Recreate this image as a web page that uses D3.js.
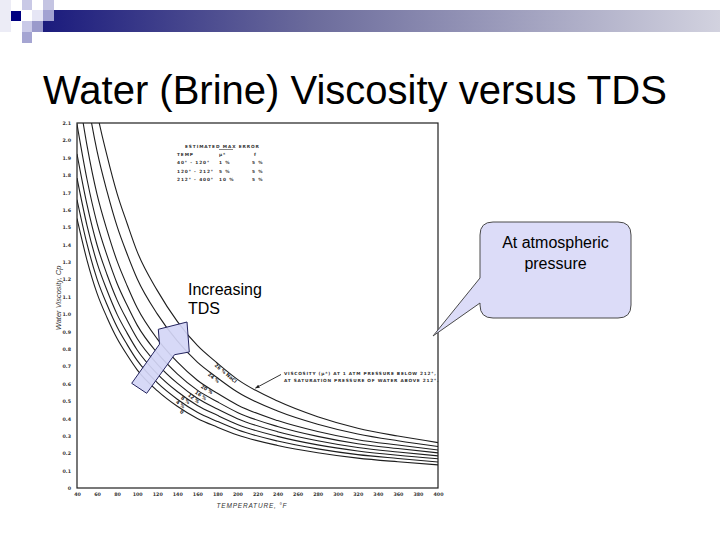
<!DOCTYPE html>
<html>
<head>
<meta charset="utf-8">
<script src="https://cdn.jsdelivr.net/npm/d3@7"></script>
<style>
body { margin: 0; background: #fff; }
svg { display: block; }
</style>
</head>
<body>
<svg id="slide" width="720" height="540"></svg>
<script>
// temperature samples, deg F
var temps = [40, 50, 60, 70, 80, 90, 100, 120, 140, 160, 180, 200, 240, 280, 320, 360, 400];

// viscosity, cp (one list per NaCl curve)
var visc0  = [1.550, 1.310, 1.120, 0.980, 0.860, 0.765, 0.680, 0.560, 0.470, 0.400, 0.350, 0.305, 0.245, 0.203, 0.172, 0.151, 0.133];
var visc4  = [1.659, 1.404, 1.202, 1.054, 0.926, 0.825, 0.734, 0.606, 0.511, 0.436, 0.383, 0.335, 0.270, 0.225, 0.192, 0.170, 0.150];
var visc8  = [1.783, 1.510, 1.295, 1.136, 0.999, 0.891, 0.794, 0.657, 0.555, 0.475, 0.418, 0.366, 0.297, 0.248, 0.213, 0.188, 0.168];
var visc12 = [1.922, 1.630, 1.398, 1.227, 1.081, 0.965, 0.860, 0.713, 0.603, 0.516, 0.454, 0.399, 0.324, 0.272, 0.233, 0.207, 0.185];
var visc16 = [2.093, 1.775, 1.523, 1.337, 1.177, 1.051, 0.937, 0.777, 0.657, 0.563, 0.496, 0.435, 0.354, 0.297, 0.255, 0.227, 0.202];
var visc20 = [2.325, 1.970, 1.689, 1.482, 1.305, 1.164, 1.037, 0.858, 0.725, 0.620, 0.545, 0.478, 0.388, 0.325, 0.278, 0.247, 0.219];
var visc24 = [2.651, 2.253, 1.938, 1.705, 1.505, 1.346, 1.204, 1.002, 0.846, 0.724, 0.634, 0.552, 0.443, 0.367, 0.311, 0.272, 0.239];
var visc26 = [2.992, 2.528, 2.162, 1.911, 1.694, 1.522, 1.360, 1.137, 0.959, 0.820, 0.718, 0.625, 0.500, 0.410, 0.344, 0.299, 0.261];

var curveNames = ["0", "4 %", "8 %", "12 %", "16 %", "20 %", "24 %", "26 % NaCl"];
var labelTemps = [144, 140, 145, 152, 159, 165, 172, 179];

var xTicks = [40, 60, 80, 100, 120, 140, 160, 180, 200, 220, 240, 260, 280, 300, 320, 340, 360, 380, 400];
var yTicks = [0, 0.1, 0.2, 0.3, 0.4, 0.5, 0.6, 0.7, 0.8, 0.9, 1.0, 1.1, 1.2, 1.3, 1.4, 1.5, 1.6, 1.7, 1.8, 1.9, 2.0, 2.1];

var errTemp = ["40° - 120°", "120° - 212°", "212° - 400°"];
var errMu = ["1 %", "5 %", "10 %"];
var errF = ["5 %", "5 %", "5 %"];

var series = [visc0, visc4, visc8, visc12, visc16, visc20, visc24, visc26];

var svg = d3.select("#slide");
var ink = "#1e1e1e";
var scanFont = "'DejaVu Sans', sans-serif";
var sans = "'Liberation Sans', Arial, sans-serif";

// ---- slide decoration (squares + gradient bar)
var defs = svg.append("defs");
var grad = defs.append("linearGradient").attr("id", "bar");
grad.append("stop").attr("offset", "0").attr("stop-color", "#1b1b7d");
grad.append("stop").attr("offset", "0.4").attr("stop-color", "#6c6c9c");
grad.append("stop").attr("offset", "1").attr("stop-color", "#d2d2df");
svg.append("rect").attr("x", 43).attr("y", 10).attr("width", 677).attr("height", 22).attr("fill", "url(#bar)");

var squares = [
  [0, 0, 11, 32, "#ececf6"],
  [22, 0, 10, 10, "#c9c9e6"],
  [43, 0, 11, 10, "#c4c4e2"],
  [11, 11, 10, 10, "#000080"],
  [32, 10, 11, 11, "#e6e6f5"],
  [43, 10, 11, 11, "#a3a3d2"],
  [22, 21, 10, 11, "#cacae8"],
  [32, 21, 11, 11, "#9a9acb"],
  [22, 32, 10, 11, "#a5a5d2"]
];
svg.selectAll("rect.sq").data(squares).enter().append("rect")
  .attr("class", "sq")
  .attr("x", function(d) { return d[0]; })
  .attr("y", function(d) { return d[1]; })
  .attr("width", function(d) { return d[2]; })
  .attr("height", function(d) { return d[3]; })
  .attr("fill", function(d) { return d[4]; });

svg.append("text")
  .attr("x", 43).attr("y", 104)
  .attr("font-family", sans)
  .attr("font-size", 40)
  .attr("fill", "#000")
  .text("Water (Brine) Viscosity versus TDS");

// ---- the scanned chart
var x = d3.scaleLinear().domain([40, 400]).range([77, 438]);
var y = d3.scaleLinear().domain([0, 2.1]).range([488, 123]);

defs.append("clipPath").attr("id", "plot")
  .append("rect").attr("x", 77).attr("y", 123).attr("width", 361).attr("height", 365);

// frame
svg.append("rect")
  .attr("x", x(40)).attr("y", y(2.1))
  .attr("width", x(400) - x(40)).attr("height", y(0) - y(2.1))
  .attr("fill", "none").attr("stroke", ink).attr("stroke-width", 1.2);

var xAxis = svg.append("g").attr("transform", "translate(0," + y(0) + ")")
  .call(d3.axisBottom(x).tickValues(xTicks).tickSize(0).tickPadding(5).tickFormat(d3.format("d")));
var yAxis = svg.append("g").attr("transform", "translate(" + x(40) + ",0)")
  .call(d3.axisLeft(y).tickValues(yTicks).tickSize(0).tickPadding(6)
    .tickFormat(function(d) { return d === 0 ? "0" : d3.format(".1f")(d); }));
[xAxis, yAxis].forEach(function(g) {
  g.select(".domain").remove();
  g.selectAll("text").attr("font-family", scanFont).attr("font-size", 4.8)
    .attr("font-weight", "bold").attr("fill", "#333");
});

svg.append("text")
  .attr("transform", "translate(61,298) rotate(-90)")
  .attr("text-anchor", "middle")
  .attr("font-family", sans)
  .attr("font-style", "italic").attr("font-size", 7.5).attr("fill", "#333")
  .text("Water Viscosity, Cp");

svg.append("text")
  .attr("x", 252).attr("y", 508)
  .attr("text-anchor", "middle")
  .attr("font-family", sans)
  .attr("font-style", "italic").attr("font-size", 6.5).attr("letter-spacing", 0.8).attr("fill", "#333")
  .text("TEMPERATURE, °F");

var line = d3.line()
  .x(function(d, i) { return x(temps[i]); })
  .y(function(d) { return y(d); })
  .curve(d3.curveMonotoneX);

svg.append("g").attr("clip-path", "url(#plot)")
  .selectAll("path").data(series).enter().append("path")
  .attr("d", line)
  .attr("fill", "none").attr("stroke", ink).attr("stroke-width", 1.1);

// value on a curve at any temperature, between the read samples
function at(vals, t) {
  var i = d3.bisectRight(temps, t) - 1;
  i = Math.max(0, Math.min(temps.length - 2, i));
  var f = (t - temps[i]) / (temps[i + 1] - temps[i]);
  return vals[i] + f * (vals[i + 1] - vals[i]);
}

// curve labels, hanging just under each curve
svg.append("g").selectAll("text").data(series).enter().append("text")
  .attr("transform", function(d, i) {
    var t = labelTemps[i];
    var a = Math.atan2(y(at(d, t + 6)) - y(at(d, t - 6)), x(t + 6) - x(t - 6)) * 180 / Math.PI;
    return "translate(" + x(t) + "," + (y(at(d, t)) + 1) + ") rotate(" + a + ")";
  })
  .attr("dominant-baseline", "hanging")
  .attr("font-family", scanFont).attr("font-size", 4.8).attr("font-weight", "bold")
  .attr("fill", "#222")
  .text(function(d, i) { return curveNames[i]; });

// error table
var tbl = svg.append("g").attr("font-family", scanFont).attr("font-size", 4.3)
  .attr("font-weight", "bold").attr("fill", "#333").attr("letter-spacing", 0.9);
tbl.append("text").attr("x", 185).attr("y", 148).text("ESTIMATED MAX ERROR");
tbl.append("line").attr("x1", 219).attr("x2", 233).attr("y1", 149.5).attr("y2", 149.5)
  .attr("stroke", "#333").attr("stroke-width", 0.6);
tbl.append("text").attr("x", 177).attr("y", 156).text("TEMP");
tbl.append("text").attr("x", 219).attr("y", 156).text("μ*");
tbl.append("text").attr("x", 254).attr("y", 156).text("f");
errTemp.forEach(function(t, i) {
  var yy = 164 + i * 8.5;
  tbl.append("text").attr("x", 177).attr("y", yy).text(t);
  tbl.append("text").attr("x", 219).attr("y", yy).text(errMu[i]);
  tbl.append("text").attr("x", 252).attr("y", yy).text(errF[i]);
});

// note with arrow to the top curve
var note = svg.append("g").attr("font-family", scanFont).attr("font-size", 4.3)
  .attr("font-weight", "bold").attr("fill", "#333").attr("letter-spacing", 0.75);
note.append("text").attr("x", 284).attr("y", 375).text("VISCOSITY (μ*) AT 1 ATM PRESSURE BELOW 212°,");
note.append("text").attr("x", 284).attr("y", 382).text("AT SATURATION PRESSURE OF WATER ABOVE 212°.");
var tipX = x(218), tipY = y(at(visc26, 218)) - 1;
defs.append("marker").attr("id", "head").attr("viewBox", "0 0 10 10")
  .attr("refX", 9).attr("refY", 5).attr("markerWidth", 5).attr("markerHeight", 5)
  .attr("orient", "auto")
  .append("path").attr("d", "M0,1L10,5L0,9z").attr("fill", ink);
svg.append("line").attr("x1", 281).attr("y1", 374.5).attr("x2", tipX).attr("y2", tipY)
  .attr("stroke", ink).attr("stroke-width", 0.9).attr("marker-end", "url(#head)");

// ---- slide overlays
svg.append("path")
  .attr("d", "M131.7,383.3 L146.7,393.3 L174.5,354.7 L189.3,352 L187,322 L158.3,329.3 L159.5,344.2 Z")
  .attr("fill", "#d4d6f6").attr("fill-opacity", 0.92)
  .attr("stroke", "#23235e").attr("stroke-width", 1);

svg.append("text").attr("x", 188).attr("y", 295).attr("font-family", sans).attr("font-size", 16).text("Increasing");
svg.append("text").attr("x", 188).attr("y", 314).attr("font-family", sans).attr("font-size", 16).text("TDS");

svg.append("path")
  .attr("d", "M493,222 H618 Q631,222 631,235 V305 Q631,318 618,318 H493 Q480,318 480,305 V303 L433,336 L480,278 V235 Q480,222 493,222 Z")
  .attr("fill", "#dcdcf8").attr("stroke", "#4a4a4a").attr("stroke-width", 1);
svg.append("text").attr("x", 555.5).attr("y", 248).attr("text-anchor", "middle")
  .attr("font-family", sans).attr("font-size", 16).text("At atmospheric");
svg.append("text").attr("x", 555.5).attr("y", 269).attr("text-anchor", "middle")
  .attr("font-family", sans).attr("font-size", 16).text("pressure");
</script>
</body>
</html>
